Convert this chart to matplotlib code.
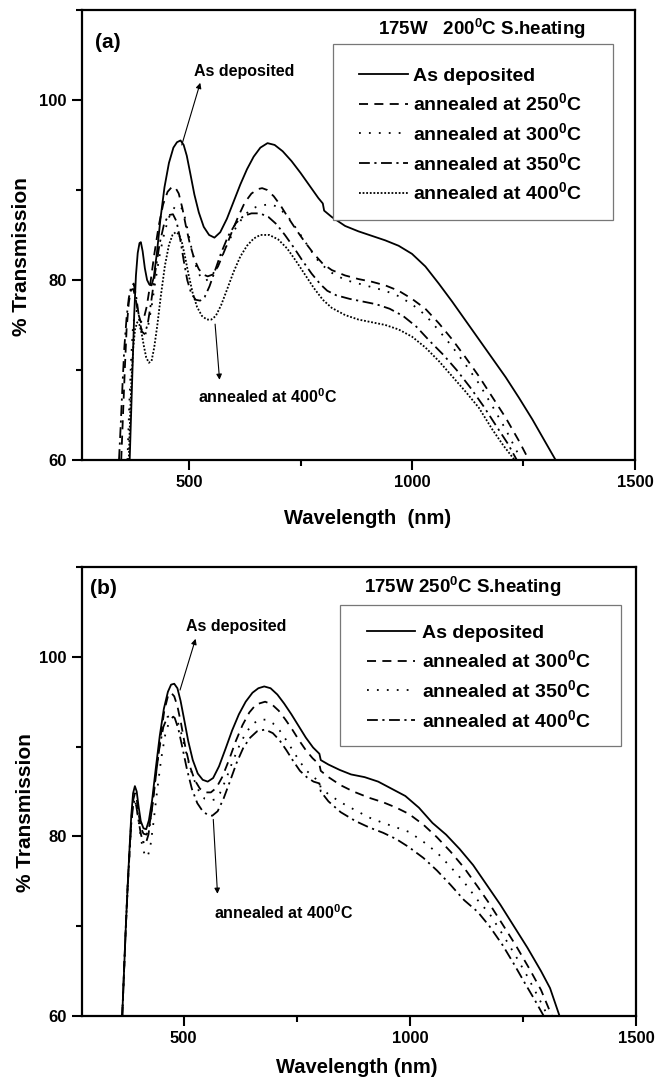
import matplotlib
matplotlib.use("Agg")
import matplotlib.pyplot as plt
from matplotlib.patches import Rectangle

plt.rcParams['font.family'] = ['Liberation Sans', 'DejaVu Sans']
plt.rcParams['font.weight'] = 'bold'
plt.rcParams['axes.labelweight'] = 'bold'
plt.rcParams['mathtext.fontset'] = 'custom'
plt.rcParams['mathtext.rm'] = 'Liberation Sans:bold'
plt.rcParams['mathtext.bf'] = 'Liberation Sans:bold'
plt.rcParams['mathtext.default'] = 'bf'

# ---------------- panel (a): 175W, 200C substrate heating ----------------
wl_a_asdep = [367, 372, 377, 381, 385, 389, 392, 396, 401, 406, 411, 416, 421, 428, 436, 445, 455, 465, 473, 481,
              488, 495, 503, 512, 522, 533, 545, 557, 570, 585, 600, 615, 630, 645, 660, 676, 692, 710, 730, 750,
              770, 790, 800, 803, 820, 850, 880, 910, 940, 970, 1000, 1030, 1060, 1090, 1120, 1150, 1180, 1210,
              1240, 1270, 1300, 1322]
tr_a_asdep = [60, 68, 76, 80.5, 83, 84.1, 84.2, 83.2, 81.3, 80, 79.5, 79.4, 80.3, 83, 86.8, 90.3, 93, 94.7, 95.3, 95.5,
              95, 93.8, 91.8, 89.5, 87.5, 85.9, 85, 84.7, 85.3, 86.8, 88.7, 90.6, 92.3, 93.7, 94.7, 95.2, 95, 94.3,
              93.2, 91.9, 90.5, 89.1, 88.5, 87.7, 87.0, 86.0, 85.4, 84.9, 84.4, 83.8, 82.9, 81.5, 79.6, 77.6, 75.5,
              73.4, 71.3, 69.2, 66.9, 64.5, 61.9, 60]

wl_a_250 = [348, 352, 356, 360, 365, 370, 375, 380, 386, 392, 398, 405, 413, 422, 432, 442, 452, 461, 469, 477,
            485, 493, 502, 512, 522, 532, 542, 553, 565, 580, 595, 610, 625, 640, 655, 664, 675, 690, 705, 720,
            740, 760, 780, 800, 820, 850, 880, 910, 940, 970, 1000, 1030, 1060, 1090, 1120, 1150, 1180, 1210,
            1240, 1262]
tr_a_250 = [60, 65, 70, 74.5, 77.5, 78.9, 79.0, 78.0, 76.3, 75.3, 75.6, 77.0, 79.5, 82.8, 86.0, 88.4, 89.8, 90.3,
            90.3, 89.6, 88.0, 86.0, 84.0, 82.3, 81.2, 80.6, 80.4, 80.6, 81.5, 83.3, 85.2, 87.0, 88.6, 89.6, 90.1,
            90.2, 90.0, 89.3, 88.3, 87.1, 85.6, 84.2, 82.9, 81.8, 81.1, 80.5, 80.1, 79.8, 79.4, 78.8, 77.9, 76.8,
            75.2, 73.4, 71.4, 69.3, 67.0, 64.7, 62.1, 60]

wl_a_300 = [362, 366, 370, 374, 378, 383, 389, 395, 401, 408, 416, 425, 435, 446, 457, 468, 478, 486, 493, 500,
            508, 516, 525, 536, 548, 560, 575, 590, 605, 620, 635, 650, 665, 680, 695, 710, 725, 745, 765, 785,
            800, 820, 850, 880, 910, 940, 970, 1000, 1030, 1060, 1090, 1120, 1150, 1180, 1210, 1245]
tr_a_300 = [60, 66, 71, 74.5, 76.2, 76.6, 75.5, 74.2, 73.8, 74.8, 77.0, 80.0, 83.0, 85.5, 87.2, 88.1, 88.3, 87.8,
            86.5, 84.8, 83.0, 81.5, 80.4, 79.9, 80.2, 81.2, 82.8, 84.4, 85.8, 86.9, 87.7, 88.1, 88.3, 88.4, 88.2,
            87.6, 86.8, 85.4, 83.9, 82.4, 81.6, 80.8, 80.0, 79.6, 79.2, 78.8, 78.2, 77.3, 76.1, 74.4, 72.6, 70.6,
            68.5, 66.0, 63.4, 60]

wl_a_350 = [343, 347, 351, 355, 360, 365, 370, 376, 382, 388, 394, 400, 407, 415, 424, 434, 444, 454, 464, 472,
            480, 488, 496, 505, 515, 525, 535, 546, 558, 572, 588, 605, 622, 640, 659, 678, 696, 715, 735, 755,
            775, 795, 810, 830, 860, 890, 920, 950, 980, 1010, 1040, 1070, 1100, 1130, 1160, 1190, 1215, 1235]
tr_a_350 = [60, 64, 68.5, 72.5, 75.8, 78.0, 79.2, 79.6, 78.0, 75.8, 74.3, 74.0, 75.0, 77.5, 80.8, 84.0, 86.2, 87.2,
            87.3, 86.5, 84.6, 82.2, 80.0, 78.5, 77.8, 77.7, 78.1, 79.3, 81.0, 83.0, 84.9, 86.3, 87.1, 87.4, 87.4,
            87.0, 86.2, 85.0, 83.6, 82.1, 80.7, 79.5, 78.8, 78.3, 77.9, 77.6, 77.3, 76.8, 76.0, 74.8, 73.2, 71.7,
            70.0, 68.1, 66.0, 63.7, 61.8, 60]

wl_a_400 = [365, 368, 371, 375, 379, 384, 389, 394, 399, 404, 410, 416, 422, 429, 437, 446, 455, 463, 470, 477,
            484, 491, 499, 508, 518, 529, 540, 550, 560, 572, 585, 600, 615, 630, 645, 660, 680, 700, 720, 740,
            760, 780, 800, 820, 850, 880, 910, 940, 970, 1000, 1030, 1060, 1090, 1120, 1150, 1180, 1205, 1230]
tr_a_400 = [60, 65, 69, 72.5, 74.5, 75.3, 75.0, 74.0, 72.6, 71.4, 70.8, 71.0, 72.5, 75.0, 78.3, 81.6, 83.9, 85.0,
            85.3, 85.1, 84.2, 82.6, 80.6, 78.6, 77.0, 76.0, 75.6, 75.6, 76.0, 77.2, 78.9, 80.9, 82.6, 83.8, 84.6,
            85.0, 85.0, 84.5, 83.5, 82.1, 80.6, 79.1, 77.8, 76.9, 76.1, 75.6, 75.3, 75.0, 74.5, 73.7, 72.5, 71.0,
            69.3, 67.6, 65.8, 63.4, 61.6, 60]

# ---------------- panel (b): 175W, 250C substrate heating ----------------
wl_b_asdep = [364, 368, 372, 376, 380, 384, 388, 392, 396, 400, 405, 411, 417, 423, 430, 438, 447, 456, 465, 472,
              479, 486, 493, 501, 510, 520, 531, 542, 553, 565, 578, 592, 607, 622, 637, 652, 665, 678, 692, 707,
              722, 738, 754, 770, 786, 800, 803, 820, 845, 870, 900, 930, 960, 990, 1020, 1050, 1080, 1110, 1140,
              1170, 1200, 1230, 1260, 1290, 1310, 1331]
tr_b_asdep = [60, 65, 70, 74.5, 78.5, 82.3, 84.8, 85.6, 85.0, 83.4, 81.7, 80.9, 80.8, 81.8, 84.0, 87.5, 91.2, 94.2,
              96.1, 96.9, 97.0, 96.5, 95.1, 93.0, 90.6, 88.5, 87.0, 86.3, 86.1, 86.5, 87.8, 89.7, 91.8, 93.6, 95.0,
              96.0, 96.5, 96.7, 96.5, 95.8, 94.8, 93.6, 92.3, 91.0, 89.9, 89.2, 88.5, 88.0, 87.4, 86.9, 86.6, 86.1,
              85.3, 84.5, 83.2, 81.5, 80.2, 78.6, 76.8, 74.6, 72.4, 70.0, 67.6, 65.0, 63.1, 60]

wl_b_300 = [364, 368, 372, 376, 380, 384, 388, 392, 396, 400, 405, 411, 418, 424, 431, 439, 448, 457, 465, 472,
            479, 486, 494, 503, 513, 524, 536, 548, 560, 572, 585, 600, 615, 630, 645, 660, 680, 695, 710, 725,
            740, 755, 770, 785, 800, 803, 820, 847, 875, 910, 941, 970, 998, 1030, 1060, 1090, 1120, 1150, 1176,
            1205, 1235, 1265, 1290, 1314]
tr_b_300 = [60, 65, 70, 74.5, 78.3, 81.8, 84.0, 84.8, 84.2, 82.6, 81.0, 80.3, 80.2, 81.2, 83.5, 87.0, 90.8, 94.0,
            95.6, 96.0, 95.6, 94.5, 92.6, 90.1, 87.9, 86.3, 85.3, 84.9, 84.9, 85.4, 86.6, 88.5, 90.6, 92.4, 93.8,
            94.7, 95.0, 94.7, 94.0, 93.0, 91.9, 90.7, 89.6, 88.7, 88.0, 87.3, 86.6, 85.7, 85.0, 84.3, 83.8, 83.2,
            82.5, 81.3, 79.9, 78.3, 76.5, 74.4, 72.5, 70.2, 67.8, 65.2, 62.9, 60]

wl_b_350 = [364, 368, 372, 376, 380, 384, 388, 392, 397, 402, 408, 414, 420, 426, 433, 441, 450, 459, 468, 476,
            484, 492, 501, 511, 522, 534, 546, 558, 568, 580, 593, 607, 622, 637, 652, 667, 682, 697, 712, 727,
            742, 757, 772, 787, 800, 803, 820, 847, 880, 910, 941, 970, 998, 1030, 1060, 1090, 1120, 1150, 1176,
            1205, 1235, 1260, 1285, 1305]
tr_b_350 = [60, 65, 70, 74.3, 78.0, 81.5, 83.5, 84.0, 83.0, 81.0, 79.0, 77.9, 77.7, 78.8, 81.5, 85.0, 88.6, 91.3,
            92.8, 93.3, 93.1, 92.0, 90.2, 88.2, 86.4, 85.0, 84.2, 84.0, 84.1, 84.8, 86.3, 88.2, 90.0, 91.5, 92.5,
            93.0, 93.0, 92.6, 91.8, 90.7, 89.5, 88.3, 87.3, 86.6, 86.1, 85.4, 84.7, 83.8, 82.9, 82.1, 81.5, 81.0,
            80.5, 79.4, 78.2, 76.6, 74.9, 72.9, 71.4, 69.1, 66.6, 64.4, 62.0, 60]

wl_b_400 = [364, 368, 372, 376, 380, 384, 388, 391, 395, 400, 405, 410, 416, 422, 429, 437, 446, 455, 464, 472,
            480, 488, 497, 507, 518, 530, 542, 553, 563, 575, 588, 602, 617, 632, 647, 662, 680, 697, 712, 727,
            742, 757, 772, 787, 800, 803, 820, 847, 880, 910, 941, 970, 998, 1030, 1060, 1090, 1120, 1150, 1176,
            1205, 1230, 1255, 1276, 1296]
tr_b_400 = [60, 65, 70, 74.2, 78.0, 81.4, 83.4, 84.0, 83.4, 81.8, 80.3, 79.4, 79.2, 80.2, 82.8, 86.3, 89.8, 92.2,
            93.3, 93.5, 93.2, 92.0, 89.9, 87.5, 85.3, 83.7, 82.8, 82.4, 82.3, 82.8, 84.2, 86.1, 88.2, 89.9, 91.0,
            91.7, 91.9, 91.5, 90.7, 89.6, 88.4, 87.3, 86.6, 86.1, 85.9, 85.0, 83.9, 82.7, 81.7, 81.0, 80.4, 79.7,
            78.8, 77.6, 76.2, 74.6, 72.9, 71.6, 70.0, 67.9, 65.8, 63.6, 61.8, 60]

labels_a = ["As deposited", "annealed at 250$^0$C", "annealed at 300$^0$C",
            "annealed at 350$^0$C", "annealed at 400$^0$C"]
labels_b = ["As deposited", "annealed at 300$^0$C", "annealed at 350$^0$C",
            "annealed at 400$^0$C"]

SOLID = '-'
DASHED = (0, (5, 3.5))
SPARSE_DOT = (0, (1, 4.5))
DASHDOT = (0, (6, 2.5, 1.2, 2.5))
DENSE_DOT = (0, (1, 1))


def style_axes(ax, xmin):
    ax.set_xlim(xmin, 1500)
    ax.set_ylim(60, 110)
    ax.set_xticks([500, 1000, 1500])
    ax.set_xticks([750, 1250], minor=True)
    ax.set_yticks([60, 80, 100])
    ax.set_yticks([70, 90, 110], minor=True)
    ax.tick_params(which='major', direction='out', length=7, width=1.5, labelsize=12, pad=4)
    ax.tick_params(which='minor', direction='out', length=4, width=1.5)
    ax.tick_params(top=False, right=False)
    for s in ax.spines.values():
        s.set_linewidth(1.6)
    ax.set_ylabel("% Transmission", fontsize=15)


def draw_legend(ax, lines, labels, box, hx, ytop, pad):
    ax.add_patch(Rectangle((box[0], box[1]), box[2] - box[0], box[3] - box[1],
                           transform=ax.transAxes, facecolor='white',
                           edgecolor='#777777', lw=0.9, zorder=3))
    leg = ax.legend(lines, labels, loc='upper left', bbox_to_anchor=(hx, ytop),
                    frameon=False, borderpad=0, borderaxespad=0, fontsize=14,
                    handlelength=2.5, handletextpad=pad, labelspacing=0.40)
    leg.set_zorder(4)


fig = plt.figure(figsize=(6.67, 10.79), dpi=100)

# ---- (a)
ax1 = fig.add_axes([0.1229, 0.5737, 0.8291, 0.4171])
la = []
for wl, tr, ls in [(wl_a_asdep, tr_a_asdep, SOLID), (wl_a_250, tr_a_250, DASHED),
                   (wl_a_300, tr_a_300, SPARSE_DOT), (wl_a_350, tr_a_350, DASHDOT),
                   (wl_a_400, tr_a_400, DENSE_DOT)]:
    ln, = ax1.plot(wl, tr, color='black', lw=1.3, linestyle=ls)
    la.append(ln)
style_axes(ax1, 260)
ax1.set_xlabel("Wavelength  (nm)", fontsize=14.5)
ax1.xaxis.set_label_coords(0.517, -0.108)
ax1.yaxis.set_label_coords(-0.092, 0.451)
draw_legend(ax1, la, labels_a, (0.454, 0.533, 0.960, 0.924), 0.501, 0.873, 0.25)
ax1.text(924, 107.9, "175W   200$^0$C S.heating", fontsize=13.5, va='center')
ax1.text(317, 106.4, "(a)", fontsize=15, ha='center', va='center')
ax1.annotate('', xy=(527, 102.2), xytext=(482, 94.7),
             arrowprops=dict(arrowstyle='-|>', color='black', lw=0.8, mutation_scale=8))
ax1.text(623, 103.2, "As deposited", fontsize=11.5, ha='center', va='center')
ax1.annotate('', xy=(569, 68.6), xytext=(558, 75.4),
             arrowprops=dict(arrowstyle='-|>', color='black', lw=0.8, mutation_scale=8))
ax1.text(675, 67.0, "annealed at 400$^0$C", fontsize=11.5, ha='center', va='center')

# ---- (b)
ax2 = fig.add_axes([0.1229, 0.0584, 0.8306, 0.4161])
lb = []
for wl, tr, ls in [(wl_b_asdep, tr_b_asdep, SOLID), (wl_b_300, tr_b_300, DASHED),
                   (wl_b_350, tr_b_350, SPARSE_DOT), (wl_b_400, tr_b_400, DASHDOT)]:
    ln, = ax2.plot(wl, tr, color='black', lw=1.3, linestyle=ls)
    lb.append(ln)
style_axes(ax2, 275)
ax2.set_xlabel("Wavelength (nm)", fontsize=14.5)
ax2.xaxis.set_label_coords(0.496, -0.094)
ax2.yaxis.set_label_coords(-0.084, 0.452)
draw_legend(ax2, lb, labels_b, (0.466, 0.601, 0.973, 0.915), 0.514, 0.873, 0.33)
ax2.text(899, 107.8, "175W 250$^0$C S.heating", fontsize=13.5, va='center')
ax2.text(323, 107.6, "(b)", fontsize=15, ha='center', va='center')
ax2.annotate('', xy=(528, 102.3), xytext=(490, 96),
             arrowprops=dict(arrowstyle='-|>', color='black', lw=0.8, mutation_scale=8))
ax2.text(615, 103.4, "As deposited", fontsize=11.5, ha='center', va='center')
ax2.annotate('', xy=(575, 73.3), xytext=(565, 82.2),
             arrowprops=dict(arrowstyle='-|>', color='black', lw=0.8, mutation_scale=8))
ax2.text(721, 71.5, "annealed at 400$^0$C", fontsize=11.5, ha='center', va='center')

fig.savefig("out.png", dpi=100)
